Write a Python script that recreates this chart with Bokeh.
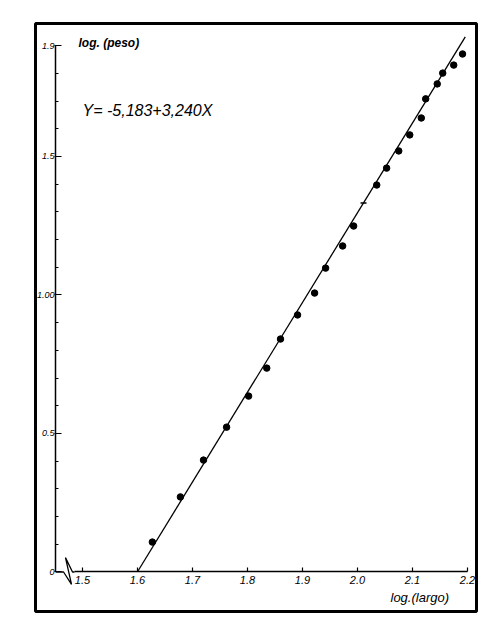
from bokeh.plotting import figure
from bokeh.models import FixedTicker, Label, Range1d
from bokeh.embed import file_html
from bokeh.resources import INLINE

# ---- data ----
log_largo = [1.627, 1.678, 1.720, 1.762, 1.802, 1.835, 1.860, 1.891, 1.922, 1.942,
             1.973, 1.993, 2.035, 2.053, 2.075, 2.095, 2.116, 2.124, 2.145, 2.155,
             2.175, 2.191]
log_peso = [0.108, 0.271, 0.404, 0.523, 0.635, 0.736, 0.841, 0.928, 1.007, 1.097,
            1.177, 1.249, 1.397, 1.458, 1.520, 1.578, 1.639, 1.708, 1.762, 1.801,
            1.830, 1.870]
faint_x = [2.011]
faint_y = [1.332]

coef_a = -5.183
coef_b = 3.240
line_x = [1.6, 2.196]
line_y = [coef_a + coef_b * v for v in line_x]

x_ticks = [1.5, 1.6, 1.7, 1.8, 1.9, 2.0, 2.1, 2.2]
x_tick_labels = ["1.5", "1.6", "1.7", "1.8", "1.9", "2.0", "2.1", "2.2"]
y_ticks = [0, 0.5, 1.0, 1.5, 1.9]
y_tick_labels = ["0", "0.5", "1.00", "1.5", "1.9"]
y_minor = [0.1, 0.2, 0.3, 0.4, 0.6, 0.7, 0.8, 0.9, 1.1, 1.2, 1.3, 1.4, 1.6, 1.7, 1.8]

break_x = [1.451, 1.4655, 1.480, 1.469, 1.4818, 1.4855]
break_y = [0, 0, -0.045, 0.052, 0.0, 0.0]

FONT = "Liberation Sans"

p = figure(width=484, height=620, output_backend="svg", toolbar_location=None,
           x_range=Range1d(1.4145, 2.2164), y_range=Range1d(-0.1426, 1.9801),
           min_border_left=35, min_border_right=8, min_border_top=23, min_border_bottom=9)
p.background_fill_color = "white"
p.border_fill_color = "white"
p.outline_line_color = "black"
p.outline_line_width = 3
p.xgrid.visible = False
p.ygrid.visible = False

# x axis
xa = p.xaxis[0]
xa.fixed_location = 0
xa.bounds = (1.4855, 2.2)
xa.ticker = FixedTicker(ticks=x_ticks, minor_ticks=[])
xa.major_label_overrides = {t: l for t, l in zip(x_ticks, x_tick_labels)}
xa.major_tick_in = 4
xa.major_tick_out = 0
xa.minor_tick_in = 0
xa.minor_tick_out = 0
xa.axis_line_width = 1.5
xa.major_tick_line_width = 1.2
xa.major_label_text_font = FONT
xa.major_label_text_font_style = "italic"
xa.major_label_text_font_size = "11px"
xa.major_label_text_color = "black"
xa.major_label_standoff = 4

# y axis
ya = p.yaxis[0]
ya.fixed_location = 1.451
ya.bounds = (0, 1.9)
ya.ticker = FixedTicker(ticks=y_ticks, minor_ticks=y_minor)
ya.major_label_overrides = {t: l for t, l in zip(y_ticks, y_tick_labels)}
ya.major_tick_in = 6
ya.major_tick_out = 1
ya.minor_tick_in = 3
ya.minor_tick_out = 0
ya.axis_line_width = 1.5
ya.major_tick_line_width = 1.2
ya.minor_tick_line_width = 1
ya.major_label_text_font = FONT
ya.major_label_text_font_style = "italic"
ya.major_label_text_font_size = "9px"
ya.major_label_text_color = "black"
ya.major_label_standoff = 0

# axis break
p.line(break_x, break_y, line_color="black", line_width=1.3)

# regression line and points
p.line(line_x, line_y, line_color="black", line_width=1.3)
p.scatter(log_largo, log_peso, size=6.5, color="black")
p.scatter(faint_x, faint_y, marker="dash", size=6, line_color="black", line_width=1.5)

# texts
p.add_layout(Label(x=1.4927, y=1.911, text="log. (peso)", text_font=FONT,
                   text_font_style="bold italic", text_font_size="12px",
                   text_baseline="middle", text_color="black"))
p.add_layout(Label(x=1.5, y=1.666, text="Y= -5,183+3,240X", text_font=FONT,
                   text_font_style="italic", text_font_size="16px",
                   text_baseline="middle", text_color="black"))
p.add_layout(Label(x=2.06, y=-0.092, text="log.(largo)", text_font=FONT,
                   text_font_style="italic", text_font_size="13px",
                   text_baseline="middle", text_color="black"))

open("out.html", "w").write(file_html(p, INLINE))
